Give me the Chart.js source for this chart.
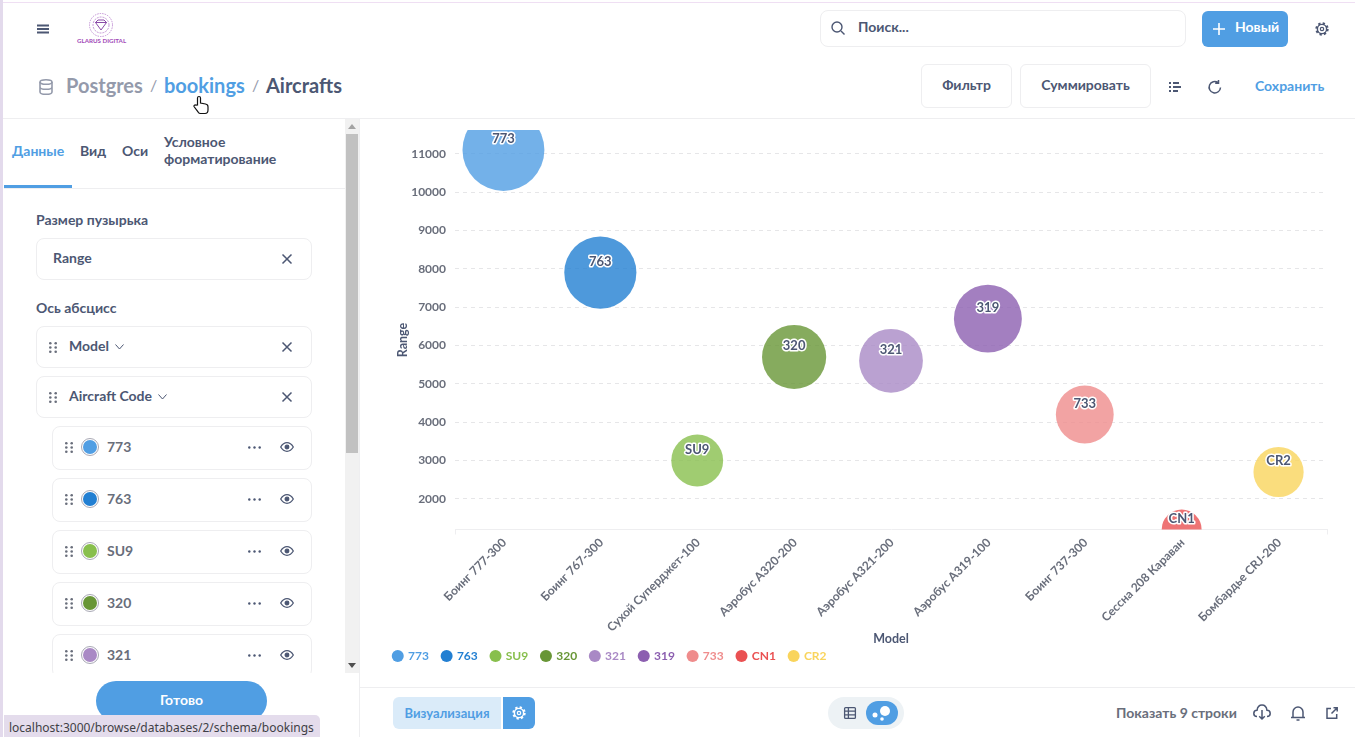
<!DOCTYPE html>
<html lang="ru">
<head>
<meta charset="utf-8">
<title>Aircrafts</title>
<script src="https://cdn.jsdelivr.net/npm/chart.js@4"></script>
<style>
html, body { margin: 0; padding: 0; width: 1355px; height: 737px; overflow: hidden; background: #fff; }
body { font-family: Lato, "Noto Sans", sans-serif; color: #4C5773; font-weight: 700; font-size: 14px; position: relative; }
.a { position: absolute; white-space: nowrap; }
.t { position: absolute; white-space: nowrap; line-height: 16px; }
.box { position: absolute; box-sizing: border-box; border: 1px solid #EEEEF0; border-radius: 8px; background: #fff; }
svg { position: absolute; overflow: visible; }
#chartWrap { position: absolute; left: 360px; top: 119px; width: 995px; height: 567px; }
#sideClip { position: absolute; left: 4px; top: 119px; width: 355px; height: 554px; overflow: hidden; }
</style>
</head>
<body>
<div class="a" style="left:0;top:2px;width:1355px;height:1px;background:#EFDFF3"></div>
<div class="a" style="left:0;top:0;width:3px;height:737px;background:#E3DAEC"></div>

<!-- шапка -->
<svg style="left:37px;top:24px" width="12" height="10"><path d="M0 1.5h12M0 5h12M0 8.500h12" stroke="#4C5773" stroke-width="2"/></svg>
<svg style="left:89px;top:13px" width="24" height="24" fill="none" stroke="#B57BCB" stroke-width=".8"><circle cx="12" cy="12" r="11.500" stroke-dasharray="1.500 1"/><circle cx="12" cy="12" r="8" stroke-dasharray="2 1"/><path d="M6.500 9.500h11L12 17z M9 7h6l2.500 2.500h-11z" stroke="#8A4BA8" stroke-width="1"/></svg>
<div class="t" style="left:77px;top:33px;font-size:6.200px;color:#A24BB8">GLARUS DIGITAL</div>
<div class="box" style="left:820px;top:10px;width:366px;height:37px"></div>
<svg style="left:831px;top:21px" width="14" height="14" fill="none" stroke="#4C5773" stroke-width="1.400"><circle cx="6" cy="6" r="5"/><path d="M10 10l3.500 3.500"/></svg>
<div class="t" style="left:858px;top:19px;font-size:14px">Поиск...</div>
<div class="a" style="left:1202px;top:11px;width:86px;height:36px;border-radius:6px;background:#509EE3"></div>
<svg style="left:1213px;top:23px" width="12" height="12"><path d="M6 0v12M0 6h12" stroke="#fff" stroke-width="1.600"/></svg>
<div class="t" style="left:1235px;top:19px;font-size:14px;color:#fff">Новый</div>
<svg style="left:1315px;top:22px" width="14" height="14" fill="none" stroke="#4C5773"><circle cx="7" cy="7" r="5.500" stroke-width="2.400" stroke-dasharray="2.200 2.120"/><circle cx="7" cy="7" r="4.600" stroke-width="1.400"/><circle cx="7" cy="7" r="1.700" stroke-width="1.200"/></svg>

<svg style="left:39px;top:79px" width="14" height="16" fill="none" stroke="#949AAB" stroke-width="1.600"><ellipse cx="7" cy="3" rx="6" ry="2.300"/><path d="M1 3v10c0 1.300 2.700 2.300 6 2.300s6-1 6-2.300V3M1 8c0 1.300 2.700 2.300 6 2.300s6-1 6-2.300"/></svg>
<div class="t" style="left:66px;top:75px;font-size:20px;line-height:20px;color:#949AAB">Postgres</div>
<div class="t" style="left:150px;top:75px;font-size:16px;line-height:20px;color:#949AAB;font-weight:400">/</div>
<div class="t" style="left:164px;top:75px;font-size:20px;line-height:20px;color:#509EE3">bookings</div>
<div class="t" style="left:252px;top:75px;font-size:16px;line-height:20px;color:#949AAB;font-weight:400">/</div>
<div class="t" style="left:266px;top:75px;font-size:20px;line-height:20px">Aircrafts</div>
<svg style="left:193px;top:96px" width="16" height="18"><path d="M4.500 9V2a1.500 1.500 0 0 1 3 0v5l5 1c1.500.3 2.500 1.200 2.500 2.700V14c0 2-1.200 3.500-3 3.500H7.500c-1 0-1.800-.5-2.300-1.300L1 10.500c-.5-1 1-2.200 2-1.300z" fill="#fff" stroke="#111" stroke-width="1.200"/></svg>

<div class="box" style="left:921px;top:64px;width:91px;height:44px;border-radius:6px"></div>
<div class="t" style="left:921px;top:77px;width:91px;text-align:center">Фильтр</div>
<div class="box" style="left:1020px;top:64px;width:131px;height:44px;border-radius:6px"></div>
<div class="t" style="left:1020px;top:77px;width:131px;text-align:center">Суммировать</div>
<svg style="left:1169px;top:82px" width="12" height="10"><path d="M0 1h2M0 5h2M0 9h2M4 1h6M4 5h8M4 9h5" stroke="#4C5773" stroke-width="2"/></svg>
<svg style="left:1208px;top:80px" width="14" height="14" fill="none" stroke="#4C5773" stroke-width="1.500"><path d="M12.500 7.500A5.700 5.700 0 1 1 10 2.500M10.500 0v3.300H7.200"/></svg>
<div class="t" style="left:1255px;top:78px;color:#509EE3">Сохранить</div>

<div class="a" style="left:3px;top:118px;width:1352px;height:1px;background:#EEEEF0"></div>
<div class="a" style="left:359px;top:119px;width:1px;height:618px;background:#EEEEF0"></div>

<!-- боковая панель -->
<div class="t" style="left:12px;top:143px;color:#509EE3">Данные</div>
<div class="t" style="left:80px;top:143px">Вид</div>
<div class="t" style="left:122px;top:143px">Оси</div>
<div class="t" style="left:164px;top:133px;line-height:17px">Условное<br>форматирование</div>
<div class="a" style="left:4px;top:188px;width:341px;height:1px;background:#EEEEF0"></div>
<div class="a" style="left:4px;top:185px;width:68px;height:3px;background:#509EE3"></div>
<div class="t" style="left:36px;top:212px">Размер пузырька</div>
<div class="t" style="left:36px;top:300px">Ось абсцисс</div>
<div id="sidePanel"></div>
<div class="a" style="left:345px;top:119px;width:14px;height:554px;background:#F1F1F1"></div>
<div class="a" style="left:346px;top:134px;width:12px;height:319px;background:#C1C1C1"></div>
<svg style="left:348px;top:124px" width="8" height="5"><path d="M4 0l4 5H0z" fill="#A3A3A3"/></svg>
<svg style="left:348px;top:663px" width="8" height="5"><path d="M0 0h8L4 5z" fill="#505050"/></svg>
<div class="a" style="left:96px;top:681px;width:171px;height:40px;border-radius:20px;background:#509EE3"></div>
<div class="t" style="left:96px;top:692px;width:171px;text-align:center;color:#fff">Готово</div>
<div class="a" style="left:4px;top:715px;width:316px;height:22px;background:#E4DCEC;border-top-right-radius:5px"></div>
<div class="t" style="left:9px;top:719px;font:400 12px 'Noto Sans',sans-serif;color:#3F3F46">localhost:3000/browse/databases/2/schema/bookings</div>

<!-- график -->
<div id="chartWrap"><canvas id="bubbleChart"></canvas></div>

<!-- нижняя панель -->
<div class="a" style="left:360px;top:687px;width:995px;height:1px;background:#EEEEF0"></div>
<div class="a" style="left:393px;top:697px;width:108px;height:32px;border-radius:6px 0 0 6px;background:#DAEBF9"></div>
<div class="t" style="left:393px;top:705px;width:108px;text-align:center;font-size:13px;color:#509EE3">Визуализация</div>
<div class="a" style="left:503px;top:697px;width:32px;height:32px;border-radius:0 6px 6px 0;background:#509EE3"></div>
<svg style="left:512px;top:706px" width="14" height="14" fill="none" stroke="#fff"><circle cx="7" cy="7" r="5.500" stroke-width="2.400" stroke-dasharray="2.200 2.120"/><circle cx="7" cy="7" r="4.600" stroke-width="1.400"/><circle cx="7" cy="7" r="1.700" stroke-width="1.200"/></svg>
<div class="a" style="left:828px;top:697px;width:76px;height:32px;border-radius:16px;background:#EDF2F5"></div>
<svg style="left:844px;top:707px" width="12" height="12" fill="none" stroke="#4C5773" stroke-width="1.300"><rect x=".6" y=".6" width="10.800" height="10.800" rx="1"/><path d="M.6 4.200h10.800M.6 7.800h10.800M4.400 .6v10.800"/></svg>
<div class="a" style="left:866px;top:701px;width:32px;height:24px;border-radius:12px;background:#509EE3"></div>
<svg style="left:866px;top:701px" width="32" height="24" fill="#fff"><circle cx="19" cy="10" r="5"/><circle cx="9" cy="14" r="2.500"/><circle cx="16" cy="18" r="1.800"/></svg>
<div class="t" style="left:1116px;top:705px;color:#696E7B">Показать 9 строки</div>
<svg style="left:1253px;top:704px" width="18" height="16" fill="none" stroke="#4C5773" stroke-width="1.500"><path d="M4 12.500C1.500 12.500.8 10.800.8 9.500c0-2 1.500-3.200 3.200-3.200C4.500 3 6.500 1 9 1s4.500 2 5 5.300c1.700 0 3.200 1.200 3.200 3.200 0 1.300-.7 3-3.200 3M9 6v9M6.200 12.300L9 15l2.800-2.700"/></svg>
<svg style="left:1290px;top:705px" width="16" height="16" fill="none" stroke="#4C5773" stroke-width="1.500"><path d="M1 12.500h14M3 12.500V7a5 5 0 0 1 10 0v5.500M6.500 15h3"/></svg>
<svg style="left:1326px;top:707px" width="12" height="12" fill="none" stroke="#4C5773" stroke-width="1.500"><path d="M5 1.500H1v9.700h9.700V7M5.500 6.500L11 1M7.500 .8h3.700v3.700"/></svg>

<script>
// данные графика
const models = ['Боинг 777-300', 'Боинг 767-300', 'Сухой Суперджет-100', 'Аэробус A320-200', 'Аэробус A321-200', 'Аэробус A319-100', 'Боинг 737-300', 'Сессна 208 Караван', 'Бомбардье CRJ-200'];
const codes = ['773', '763', 'SU9', '320', '321', '319', '733', 'CN1', 'CR2'];
const ranges = [11100, 7900, 3000, 5700, 5600, 6700, 4200, 1200, 2700];
const yTicks = [2000, 3000, 4000, 5000, 6000, 7000, 8000, 9000, 10000, 11000];
const colors = ['#509EE3', '#227FD2', '#88BF4D', '#689636', '#A989C5', '#8C5FB0', '#EF8C8C', '#EA5152', '#F9D45C'];

const axisMin = 1200;
const axisMax = 11620;

// радиус пузырька от значения Range
function bubbleRadius(value) {
    return 9.7 + 0.2966 * Math.sqrt(value);
}

// подпись оси Y стоит ниже центра оси, поэтому рисуем сами
const yTitle = {
    id: 'yTitle',
    afterDraw(chart) {
        const ctx = chart.ctx;
        ctx.save();
        ctx.translate(43, 221);
        ctx.rotate(-Math.PI / 2);
        ctx.font = '700 12.5px Lato';
        ctx.fillStyle = '#4C5773';
        ctx.textAlign = 'center';
        ctx.textBaseline = 'middle';
        ctx.fillText('Range', 0, 0);
        ctx.restore();
    }
};

// подписи кодов над центром пузырька
const bubbleLabels = {
    id: 'bubbleLabels',
    afterDraw(chart) {
        const ctx = chart.ctx;
        ctx.save();
        ctx.font = '700 13px Lato';
        ctx.textAlign = 'center';
        ctx.textBaseline = 'middle';
        ctx.lineJoin = 'round';
        chart.data.datasets.forEach((dataset, i) => {
            const point = chart.getDatasetMeta(i).data[0];
            ctx.strokeStyle = '#fff';
            ctx.lineWidth = 3;
            ctx.strokeText(dataset.label, point.x, point.y - 11);
            ctx.fillStyle = '#4C5773';
            ctx.fillText(dataset.label, point.x, point.y - 11);
        });
        ctx.restore();
    }
};

const ctx = document.getElementById('bubbleChart').getContext('2d');
new Chart(ctx, {
    type: 'bubble',
    data: {
        labels: models,
        datasets: codes.map((code, i) => ({
            label: code,
            data: [{ x: models[i], y: ranges[i], r: bubbleRadius(ranges[i]) }],
            backgroundColor: colors[i] + 'CC',
            borderWidth: 0
        }))
    },
    options: {
        responsive: true,
        maintainAspectRatio: false,
        animation: false,
        layout: { autoPadding: false, padding: { left: 20, right: 28, top: 11, bottom: 14 } },
        scales: {
            x: {
                type: 'category',
                offset: true,
                afterFit: scale => { scale.height = 107; scale.paddingTop = 0; },
                border: { color: '#EEEEF0' },
                grid: {
                    offset: true,
                    drawOnChartArea: false,
                    tickLength: 5,
                    tickColor: c => (c.index === 0 || c.index === undefined) ? '#EEEEF0' : 'transparent'
                },
                ticks: {
                    autoSkip: false,
                    minRotation: 45,
                    maxRotation: 45,
                    padding: 1,
                    labelOffset: 1,
                    color: '#696E7B',
                    font: { family: 'Lato', size: 12, weight: 700 }
                },
                title: {
                    display: true,
                    text: 'Model',
                    color: '#4C5773',
                    padding: { top: 0, bottom: -10 },
                    font: { family: 'Lato', size: 12.5, weight: 700 }
                }
            },
            y: {
                min: axisMin,
                max: axisMax,
                afterFit: scale => { scale.width = 75; scale.paddingTop = 0; scale.paddingBottom = 0; },
                afterBuildTicks: scale => { scale.ticks = yTicks.map(value => ({ value })); },
                border: { display: false, dash: [4, 4] },
                grid: {
                    drawTicks: false,
                    color: '#E6E6E8',
                    lineWidth: 1
                },
                ticks: {
                    padding: 9,
                    color: '#696E7B',
                    font: { family: 'Lato', size: 12, weight: 700 },
                    callback: value => String(value)
                }
            }
        },
        plugins: {
            tooltip: { enabled: false },
            legend: {
                position: 'bottom',
                align: 'start',
                labels: {
                    usePointStyle: true,
                    pointStyle: 'circle',
                    boxWidth: 8.5,
                    boxHeight: 8.5,
                    padding: 13.5,
                    font: { family: 'Lato', size: 12, weight: 700 },
                    generateLabels: chart => chart.data.datasets.map((dataset, i) => ({
                        text: dataset.label,
                        fillStyle: colors[i],
                        strokeStyle: colors[i],
                        lineWidth: 0,
                        fontColor: colors[i],
                        pointStyle: 'circle',
                        datasetIndex: i
                    }))
                }
            }
        }
    },
    plugins: [bubbleLabels, yTitle]
});

// строки боковой панели
const drag = (x, y) => `<svg style="left:${x}px;top:${y}px" width="8" height="11" fill="#696E7B"><circle cx="1.300" cy="1.300" r="1.300"/><circle cx="6.700" cy="1.300" r="1.300"/><circle cx="1.300" cy="5.500" r="1.300"/><circle cx="6.700" cy="5.500" r="1.300"/><circle cx="1.300" cy="9.700" r="1.300"/><circle cx="6.700" cy="9.700" r="1.300"/></svg>`;
const cross = (x, y) => `<svg style="left:${x}px;top:${y}px" width="10" height="10"><path d="M.5 .5l9 9M9.500 .5l-9 9" stroke="#4C5773" stroke-width="1.500"/></svg>`;
const chevron = (x, y) => `<svg style="left:${x}px;top:${y}px" width="9" height="6" fill="none"><path d="M.5 .5L4.500 5 8.500 .5" stroke="#4C5773"/></svg>`;
let html = '';
html += `<div class="box" style="left:36px;top:238px;width:276px;height:42px"></div><div class="t" style="left:53px;top:250px">Range</div>` + cross(282, 254);
html += `<div class="box" style="left:36px;top:326px;width:276px;height:42px"></div>` + drag(49, 342) + `<div class="t" style="left:69px;top:338px">Model</div>` + chevron(115, 344) + cross(282, 342);
html += `<div class="box" style="left:36px;top:376px;width:276px;height:42px"></div>` + drag(49, 392) + `<div class="t" style="left:69px;top:388px">Aircraft Code</div>` + chevron(158, 394) + cross(282, 392);
let rows = '';
codes.slice(0, 5).forEach((code, i) => {
    const top = 426 + i * 52 - 119;
    rows += `<div class="box" style="left:48px;top:${top}px;width:260px;height:44px"></div>`;
    rows += drag(61, top + 16);
    rows += `<svg style="left:77px;top:${top + 12}px" width="18" height="18"><circle cx="9" cy="9" r="8.500" fill="#fff" stroke="#A9A9B5"/><circle cx="9" cy="9" r="7" fill="${colors[i]}"/></svg>`;
    rows += `<div class="t" style="left:103px;top:${top + 13}px;font-size:14px;color:#696E7B">${code}</div>`;
    rows += `<svg style="left:244px;top:${top + 20}px" width="13" height="3" fill="#4C5773"><circle cx="1.300" cy="1.500" r="1.200"/><circle cx="6.500" cy="1.500" r="1.200"/><circle cx="11.700" cy="1.500" r="1.200"/></svg>`;
    rows += `<svg style="left:276px;top:${top + 16}px" width="14" height="10" fill="none" stroke="#4C5773" stroke-width="1.300"><path d="M.7 5C2.500 2 4.500 .7 7 .7S11.500 2 13.300 5C11.500 8 9.500 9.300 7 9.300S2.500 8 .7 5z"/><circle cx="7" cy="5" r="1.800" fill="#4C5773"/></svg>`;
});
document.getElementById('sidePanel').innerHTML = html + `<div id="sideClip">${rows}</div>`;
</script>
</body>
</html>
